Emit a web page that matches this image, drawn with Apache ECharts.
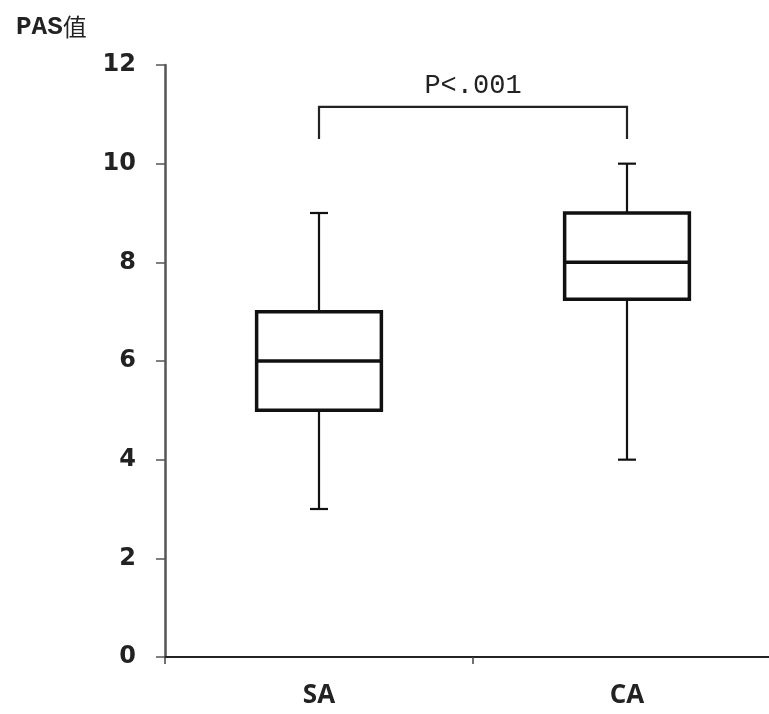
<!DOCTYPE html>
<html><head><meta charset="utf-8">
<script src="https://cdn.jsdelivr.net/npm/echarts@6/dist/echarts.min.js"></script>
<style>html,body{margin:0;padding:0;background:#fff}#c{width:769px;height:714px}</style>
</head><body><div id="c"></div>
<script>
var categories = ['SA', 'CA'];
// [min, Q1, median, Q3, max]
var boxValues = [
  [3, 5, 6, 7, 9],
  [4, 7.25, 8, 9, 10]
];
var yTicks = [0, 2, 4, 6, 8, 10, 12];
var yName = ['PAS', '值'];
var pLabel = 'P<.001';
var bracketLow = 10.5, bracketHigh = 11.15;

var chart = echarts.init(document.getElementById('c'));
chart.setOption({
  animation: false,
  backgroundColor: '#fff',
  grid: { left: 165, width: 616, top: 65, bottom: 57, outerBoundsMode: 'none', containLabel: false },
  xAxis: {
    type: 'category', data: categories, boundaryGap: true,
    axisLine: { lineStyle: { color: '#222', width: 2 } },
    axisTick: { show: true, length: 7, lineStyle: { color: '#444', width: 1.5 } },
    axisLabel: { margin: 26, fontSize: 26, fontWeight: 'bold', color: '#222', fontFamily: 'Open Sans' },
    splitLine: { show: false }
  },
  yAxis: {
    type: 'value', min: yTicks[0], max: yTicks[yTicks.length - 1], interval: 2,
    axisLine: { show: true, lineStyle: { color: '#555', width: 2.5 } },
    axisTick: { show: true, length: 9, lineStyle: { color: '#555', width: 1.5 } },
    axisLabel: { margin: 29, fontSize: 24, fontWeight: 'bold', color: '#222', fontFamily: 'DejaVu Sans' },
    splitLine: { show: false }
  },
  graphic: [{
    type: 'text', left: 16, top: 14,
    style: {
      text: '{a|' + yName[0] + '}{b|' + yName[1] + '}',
      rich: {
        a: { fontSize: 26, fill: '#222', fontFamily: 'Liberation Mono', fontWeight: 'bold' },
        b: { fontSize: 24, fill: '#222', fontFamily: 'Noto Sans CJK SC' }
      }
    }
  }],
  series: [{
    type: 'custom',
    data: boxValues.map(function (v, i) { return [i].concat(v); }),
    encode: { x: 0, y: [1, 2, 3, 4, 5] },
    renderItem: function (params, api) {
      var i = api.value(0);
      var pMin = api.coord([i, api.value(1)]);
      var pQ1 = api.coord([i, api.value(2)]);
      var pMed = api.coord([i, api.value(3)]);
      var pQ3 = api.coord([i, api.value(4)]);
      var pMax = api.coord([i, api.value(5)]);
      var bw = api.size([1, 0])[0] * 0.405;
      var cap = 18;
      var x = pMed[0];
      var st = { stroke: '#111', lineWidth: 3.5, fill: null };
      var st2 = { stroke: '#111', lineWidth: 2.2, fill: null };
      return {
        type: 'group',
        children: [
          { type: 'line', shape: { x1: x, y1: pQ3[1], x2: x, y2: pMax[1] }, style: st2 },
          { type: 'line', shape: { x1: x, y1: pQ1[1], x2: x, y2: pMin[1] }, style: st2 },
          { type: 'line', shape: { x1: x - cap / 2, y1: pMax[1], x2: x + cap / 2, y2: pMax[1] }, style: st2 },
          { type: 'line', shape: { x1: x - cap / 2, y1: pMin[1], x2: x + cap / 2, y2: pMin[1] }, style: st2 },
          { type: 'rect', shape: { x: x - bw / 2, y: pQ3[1], width: bw, height: pQ1[1] - pQ3[1] }, style: { stroke: '#111', lineWidth: 3.5, fill: '#fff' } },
          { type: 'line', shape: { x1: x - bw / 2, y1: pMed[1], x2: x + bw / 2, y2: pMed[1] }, style: st }
        ]
      };
    }
  }, {
    type: 'custom',
    data: [[0, 1, bracketLow, bracketHigh]],
    encode: { x: [0, 1], y: [2, 3] },
    renderItem: function (params, api) {
      var a = api.coord([api.value(0), api.value(2)]);
      var b = api.coord([api.value(1), api.value(2)]);
      var top = api.coord([api.value(0), api.value(3)])[1];
      var st = { stroke: '#222', lineWidth: 2.2, fill: null };
      return {
        type: 'group',
        children: [
          { type: 'polyline', shape: { points: [[a[0], a[1]], [a[0], top], [b[0], top], [b[0], b[1]]] }, style: st },
          { type: 'text', style: { text: pLabel, x: (a[0] + b[0]) / 2, y: top - 8, align: 'center', verticalAlign: 'bottom', fontSize: 27, fill: '#222', fontFamily: 'Liberation Mono' } }
        ]
      };
    }
  }]
});
</script></body></html>
